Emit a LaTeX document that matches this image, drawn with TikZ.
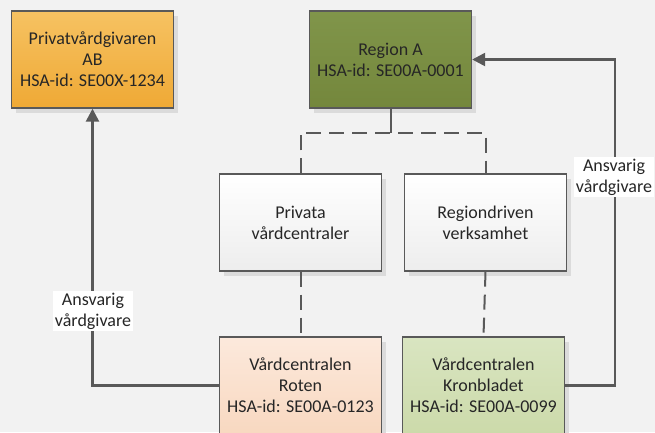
\documentclass[tikz,border=0pt]{standalone}
\usepackage{fontspec}
\setmainfont{Carlito}
\usetikzlibrary{shadows,arrows.meta}
\definecolor{bg}{HTML}{F2F2F2}
\definecolor{edge}{HTML}{595959}
\definecolor{txt}{HTML}{262626}
\definecolor{orT}{HTML}{F6C262}
\definecolor{orB}{HTML}{EFA935}
\definecolor{olT}{HTML}{80954A}
\definecolor{olB}{HTML}{74873C}
\definecolor{whT}{HTML}{FFFFFF}
\definecolor{whB}{HTML}{EDEDED}
\definecolor{peT}{HTML}{FCE9DC}
\definecolor{peB}{HTML}{F8D8C0}
\definecolor{grT}{HTML}{D9E5C1}
\definecolor{grB}{HTML}{CCDAAA}
\tikzset{
  box/.style={draw=edge, line width=1.4pt, minimum width=162pt, minimum height=97pt,
    align=center, text=txt, font=\fontsize{18}{21}\selectfont,
    drop shadow={shadow xshift=4.5pt, shadow yshift=-4.5pt, fill=black!14, opacity=1}},
  dashline/.style={draw=edge, line width=2pt, dash pattern=on 15pt off 8pt},
  arr/.style={draw=edge, line width=2.5pt, -{Triangle[length=13pt,width=13pt]}},
  lbl/.style={fill=white, text=txt, align=center, font=\fontsize{18}{21}\selectfont, inner sep=2pt}
}
\begin{document}
\begin{tikzpicture}[x=1pt,y=-1pt]
\useasboundingbox (0,0) rectangle (655,432);
\clip (0,0) rectangle (655,432);
\fill[bg] (0,0) rectangle (655,432);
\node[box, top color=orT, bottom color=orB] (priv) at (92.5,59.5) {Privatvårdgivaren\\AB\\HSA-id: SE00X-1234};
\node[box, top color=olT, bottom color=olB] (rega) at (390.5,59.5) {Region A\\HSA-id: SE00A-0001};
\node[box, top color=whT, bottom color=whB] (privata) at (300.5,222.5) {Privata\\vårdcentraler};
\node[box, top color=whT, bottom color=whB] (regd) at (485.5,222.5) {Regiondriven\\verksamhet};
\node[box, top color=peT, bottom color=peB] (roten) at (300.5,385.5) {Vårdcentralen\\Roten\\HSA-id: SE00A-0123};
\node[box, top color=grT, bottom color=grB] (kron) at (483.5,385.5) {Vårdcentralen\\Kronbladet\\HSA-id: SE00A-0099};
\coordinate (j) at (390.5,133);
\coordinate (jl) at (300.5,133);
\coordinate (jr) at (485.5,133);
\draw[draw=edge, line width=2pt] (rega.south) -- (j);
\draw[dashline] (privata.north) -- (jl) -- (jr) -- (regd.north);
\draw[dashline] (privata.south) -- (roten.north);
\draw[dashline] (regd.south) -- (kron.north);
\coordinate (rc) at (615,385.5);
\draw[arr] (kron.east) -- (rc) |- (rega.east);
\draw[arr] (roten.west) -| (priv.south);
\node[lbl] (l1) at (93,311) {Ansvarig\\vårdgivare};
\node[lbl] (l2) at (614,177) {Ansvarig\\vårdgivare};
\end{tikzpicture}
\end{document}
